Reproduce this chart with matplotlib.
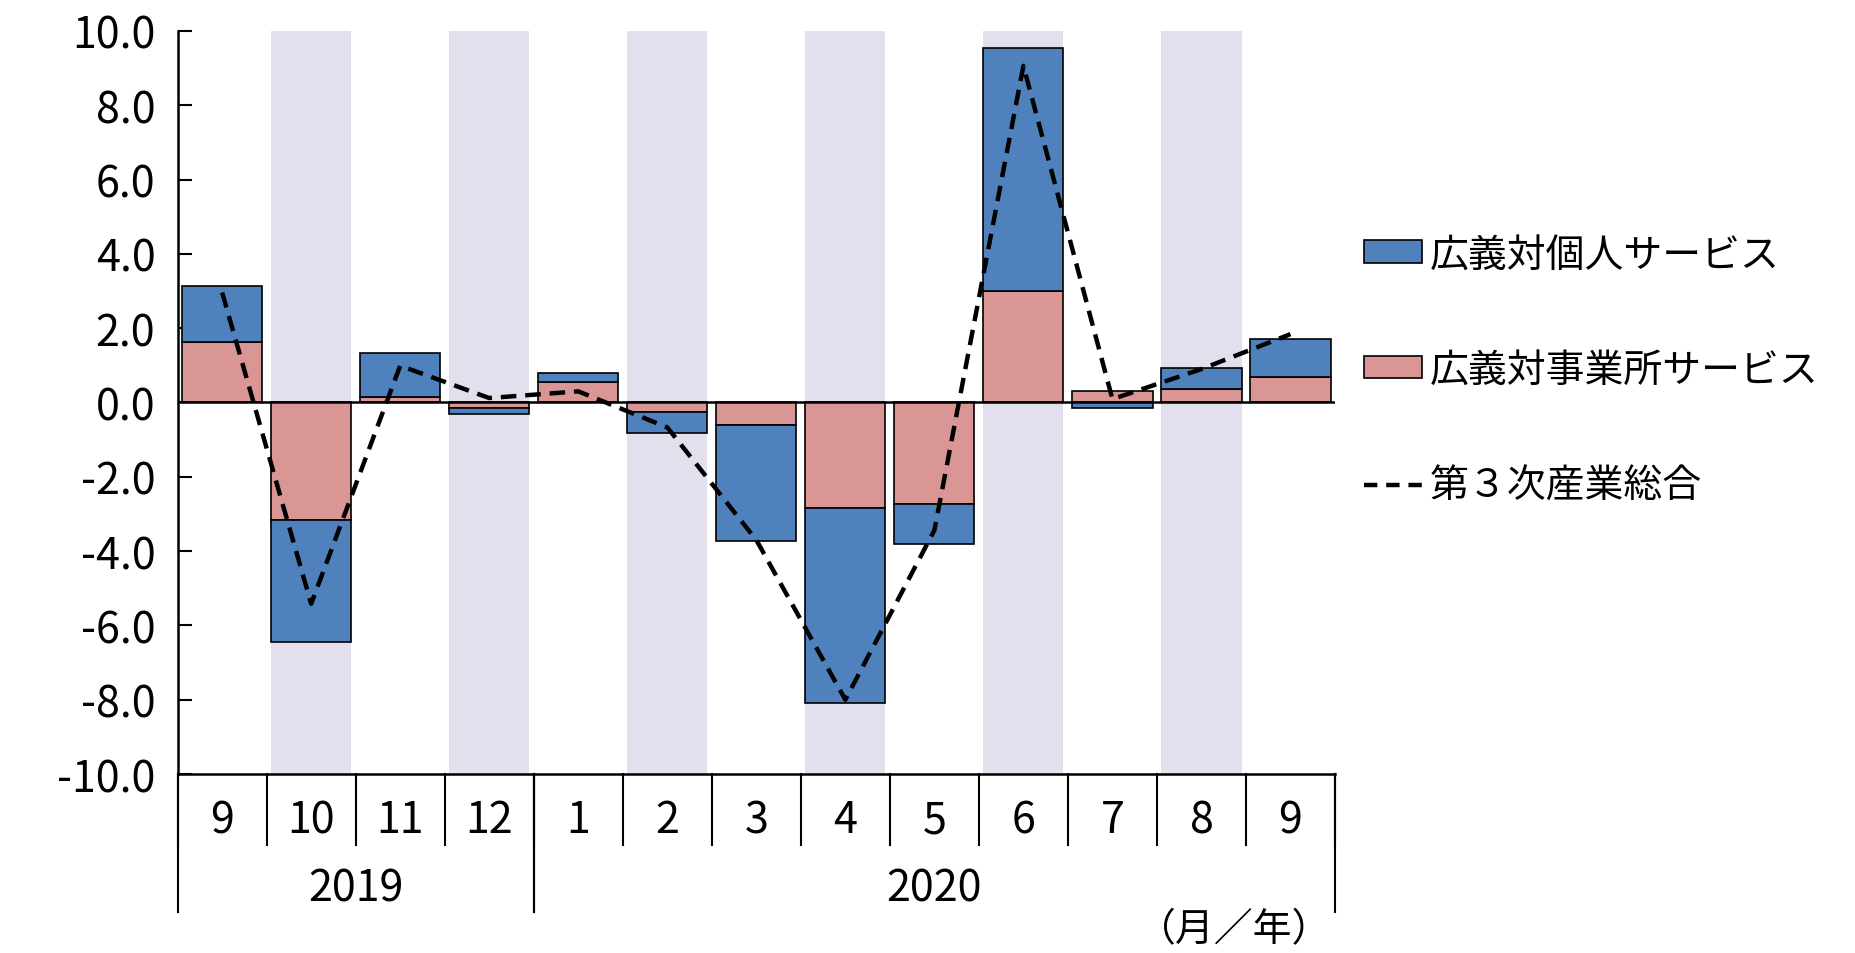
import matplotlib.pyplot as plt
from matplotlib.patches import Patch
from matplotlib.lines import Line2D

plt.rcParams['font.family'] = ['Noto Sans CJK JP', 'DejaVu Sans']

months = ['9', '10', '11', '12', '1', '2', '3', '4', '5', '6', '7', '8', '9']
years = ['2019', '2020']
year_spans = [(0, 3), (4, 12)]  # first and last month index of each year

# contributions (percentage points)
personal = [1.51, -3.27, 1.17, -0.15, 0.25, -0.58, -3.13, -5.25, -1.08, 6.53, -0.16, 0.58, 1.03]
business = [1.63, -3.17, 0.15, -0.15, 0.54, -0.25, -0.61, -2.83, -2.73, 3.00, 0.31, 0.36, 0.69]
total = [2.96, -5.42, 0.99, 0.12, 0.30, -0.67, -3.70, -8.00, -3.44, 9.06, 0.09, 0.90, 1.84]

blue = '#4F81BD'
pink = '#D99694'
band = '#E4DFEC'
fs = 31       # numbers
fs_leg = 28   # legend

fig = plt.figure(figsize=(18.56, 9.54), dpi=100)
ax = fig.add_axes([0.0957, 0.1876, 0.6236, 0.7789])

x = list(range(len(months)))
w = 0.9

# shaded columns on every other month
for i in x:
    if i % 2 == 1:
        ax.axvspan(i - w / 2, i + w / 2, color=band, zorder=0, lw=0)

# diverging stacks: business from zero, personal stacked beyond it
pers_bottom = []
for p, b in zip(personal, business):
    if (p >= 0) == (b >= 0):
        pers_bottom.append(b)
    else:
        pers_bottom.append(0)

ax.bar(x, business, width=w, color=pink, edgecolor='black', linewidth=1.2, zorder=2)
ax.bar(x, personal, width=w, bottom=pers_bottom, color=blue, edgecolor='black', linewidth=1.2, zorder=2)
ax.axhline(0, color='black', lw=1.8, zorder=3)
ax.plot(x, total, color='black', lw=3.2, linestyle=(0, (3.5, 2)), zorder=4)

ax.set_xlim(-0.5, len(months) - 0.5)
ax.set_ylim(-10, 10)
ax.set_yticks([-10, -8, -6, -4, -2, 0, 2, 4, 6, 8, 10])
ax.set_yticklabels(['%.1f' % v for v in ax.get_yticks()], fontsize=fs)
ax.tick_params(axis='y', direction='in', length=10, width=1.5, pad=16)
ax.set_xticks([])
for s in ['top', 'right']:
    ax.spines[s].set_visible(False)
ax.spines['left'].set_linewidth(1.8)
ax.spines['bottom'].set_linewidth(1.8)

# category table under the axis
tr = ax.get_xaxis_transform()
month_depth = -0.0955
year_depth = -0.186
for i in range(len(months) + 1):
    ax.plot([i - 0.5, i - 0.5], [0, month_depth], transform=tr, color='black', lw=1.5, clip_on=False)
for i, m in enumerate(months):
    ax.text(i, -0.062, m, transform=tr, ha='center', va='center', fontsize=fs)
for (a, b), yr in zip(year_spans, years):
    for edge in (a - 0.5, b + 0.5):
        ax.plot([edge, edge], [0, year_depth], transform=tr, color='black', lw=1.5, clip_on=False)
    ax.text((a + b) / 2, -0.154, yr, transform=tr, ha='center', va='center', fontsize=fs)

fig.text(0.665, 0.004, '（月／年）', ha='center', va='bottom', fontsize=fs_leg)

handles = [
    Patch(facecolor=blue, edgecolor='black', linewidth=1.2),
    Patch(facecolor=pink, edgecolor='black', linewidth=1.2),
    Line2D([], [], color='black', lw=3.2, linestyle=(0, (3, 2))),
]
labels = ['広義対個人サービス', '広義対事業所サービス', '第３次産業総合']
fig.legend(handles, labels, loc='upper left', bbox_to_anchor=(0.716, 0.79), frameon=False,
           fontsize=fs_leg, handlelength=1.5, handleheight=0.5, handletextpad=0.2, labelspacing=1.95)

fig.savefig('out.png', dpi=100)
